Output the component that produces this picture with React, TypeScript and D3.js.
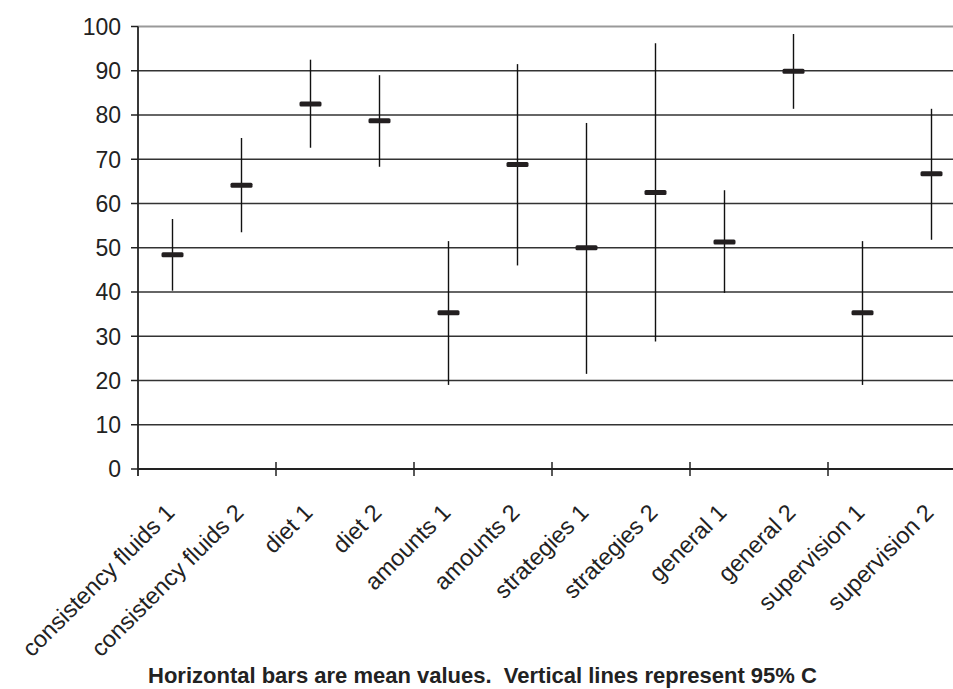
import React, { useEffect, useRef } from 'react';
import * as d3 from 'd3';

const categories = [
  'consistency fluids 1', 'consistency fluids 2', 'diet 1', 'diet 2',
  'amounts 1', 'amounts 2', 'strategies 1', 'strategies 2',
  'general 1', 'general 2', 'supervision 1', 'supervision 2'
];
const means = [48.4, 64.1, 82.5, 78.7, 35.3, 68.8, 50.0, 62.5, 51.3, 89.9, 35.3, 66.7];
const upper = [56.5, 74.8, 92.5, 89.0, 51.5, 91.5, 78.2, 96.2, 63.0, 98.3, 51.5, 81.4];
const lower = [40.3, 53.5, 72.6, 68.3, 19.0, 46.0, 21.5, 28.8, 39.8, 81.4, 19.0, 51.8];
const yTicks = [0, 10, 20, 30, 40, 50, 60, 70, 80, 90, 100];
const caption = 'Horizontal bars are mean values.  Vertical lines represent 95% C';

export default function App() {
  const ref = useRef<SVGSVGElement>(null);

  useEffect(() => {
    const width = 953;
    const svg = d3.select(ref.current);
    svg.selectAll('*').remove();

    const x = d3.scaleBand<string>().domain(categories).range([138, 966]);
    const y = d3.scaleLinear().domain([0, 100]).range([469, 26.5]);
    const font = 'Liberation Sans, Arial, sans-serif';

    // grid lines
    svg.append('g')
      .selectAll('line')
      .data(yTicks.filter(d => d > 0))
      .enter().append('line')
      .attr('x1', 138).attr('x2', width)
      .attr('y1', d => y(d)).attr('y2', d => y(d))
      .attr('stroke', d => (d === 100 ? '#999' : '#333'))
      .attr('stroke-width', d => (d === 100 ? 2 : 1.3));

    // y axis
    svg.append('line')
      .attr('x1', 138).attr('x2', 138)
      .attr('y1', y(100)).attr('y2', y(0) + 7)
      .attr('stroke', '#222').attr('stroke-width', 1.8);
    svg.append('g')
      .selectAll('line')
      .data(yTicks)
      .enter().append('line')
      .attr('x1', 131).attr('x2', 138)
      .attr('y1', d => y(d)).attr('y2', d => y(d))
      .attr('stroke', '#222').attr('stroke-width', 1.5);
    svg.append('g')
      .selectAll('text')
      .data(yTicks)
      .enter().append('text')
      .attr('x', 121).attr('y', d => y(d))
      .attr('dy', '0.36em')
      .attr('text-anchor', 'end')
      .attr('font-family', font).attr('font-size', 23)
      .attr('fill', '#222')
      .text(d => d);

    // x axis
    svg.append('line')
      .attr('x1', 138).attr('x2', width)
      .attr('y1', y(0)).attr('y2', y(0))
      .attr('stroke', '#222').attr('stroke-width', 1.8);
    svg.append('g')
      .selectAll('line')
      .data(categories.filter((_, i) => i % 2 === 0 && i > 0))
      .enter().append('line')
      .attr('x1', d => x(d)!).attr('x2', d => x(d)!)
      .attr('y1', y(0) - 7).attr('y2', y(0) + 7)
      .attr('stroke', '#222').attr('stroke-width', 1.5);
    svg.append('g')
      .selectAll('text')
      .data(categories)
      .enter().append('text')
      .attr('transform', d => `translate(${x(d)! + x.bandwidth() / 2 + 3.5},514) rotate(-45)`)
      .attr('text-anchor', 'end')
      .attr('font-family', font).attr('font-size', 23.5)
      .attr('fill', '#222')
      .text(d => d);

    // whiskers
    svg.append('g')
      .selectAll('line')
      .data(categories)
      .enter().append('line')
      .attr('x1', d => x(d)! + x.bandwidth() / 2)
      .attr('x2', d => x(d)! + x.bandwidth() / 2)
      .attr('y1', (_, i) => y(upper[i]))
      .attr('y2', (_, i) => y(lower[i]))
      .attr('stroke', '#111').attr('stroke-width', 1.4);

    // mean bars
    svg.append('g')
      .selectAll('rect')
      .data(categories)
      .enter().append('rect')
      .attr('x', d => x(d)! + x.bandwidth() / 2 - 11)
      .attr('y', (_, i) => y(means[i]) - 2.5)
      .attr('width', 22).attr('height', 5)
      .attr('rx', 1.5)
      .attr('fill', '#231f20');

    svg.append('text')
      .attr('x', 148).attr('y', 683)
      .attr('font-family', font).attr('font-size', 22)
      .attr('font-weight', 'bold')
      .attr('fill', '#222')
      .style('white-space', 'pre')
      .text(caption);
  }, []);

  return (
    <svg
      ref={ref}
      width={953}
      height={689}
      style={{ position: 'absolute', left: 0, top: 0, background: '#fff' }}
    />
  );
}
